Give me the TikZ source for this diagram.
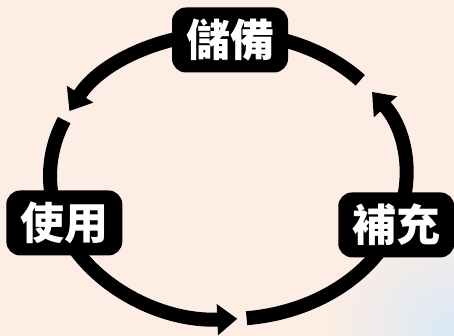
\documentclass[tikz,border=0pt]{standalone}
\usepackage{fontspec}
\newfontfamily\cjk{Noto Sans CJK TC}
\usetikzlibrary{arrows.meta,calc}
\definecolor{peach}{RGB}{253,237,228}
\definecolor{paleblue}{RGB}{216,232,246}

\begin{document}
\begin{tikzpicture}[x=1pt,y=1pt,
    ring/.style={line width=14pt, black},
    ringarrow/.style={ring, -{Triangle[width=30pt,length=20pt]}},
    stage/.style={fill=black, rounded corners=14pt, text=white,
      font=\cjk\bfseries\fontsize{44}{44}\selectfont,
      minimum width=116pt, minimum height=65pt, inner sep=0pt}]

  % Background
  \fill[peach] (0,0) rectangle (454,336);
  \begin{scope}
    \clip (0,0) rectangle (454,336);
    \shade[inner color=paleblue, outer color=peach] (454,0) circle (130);
  \end{scope}
  \useasboundingbox (0,0) rectangle (454,336);

  % Points on the ring
  \coordinate (c) at (228,160);
  \coordinate (ptop) at ($(c)+(90:178 and 143)$);
  \coordinate (pleft) at ($(c)+(199.6:178 and 143)$);
  \coordinate (pright) at ($(c)+(340:178 and 143)$);
  \coordinate (g1) at ($(c)+(157:178 and 143)$);
  \coordinate (g2) at ($(c)+(276:178 and 143)$);
  \coordinate (g3) at ($(c)+(42:178 and 143)$);

  % Ring arrows
  \draw[ringarrow] (ptop) arc[start angle=90, end angle=153, x radius=178, y radius=143];
  \draw[ring] (g1) arc[start angle=157, end angle=199.6, x radius=178, y radius=143];

  \draw[ringarrow] (pleft) arc[start angle=199.6, end angle=273, x radius=178, y radius=143];
  \draw[ring] (g2) arc[start angle=276, end angle=340, x radius=178, y radius=143];

  \draw[ringarrow] (pright) arc[start angle=340, end angle=396, x radius=178, y radius=143];
  \draw[ring] (g3) arc[start angle=42, end angle=90, x radius=178, y radius=143];

  % Stages
  \node[stage] (top) at ($(ptop)+(2,-7)$) {儲備};
  \node[stage] (left) at ($(pleft)+(4,1)$) {使用};
  \node[stage] (right) at ($(pright)+(1,0)$) {補充};

\end{tikzpicture}
\end{document}
